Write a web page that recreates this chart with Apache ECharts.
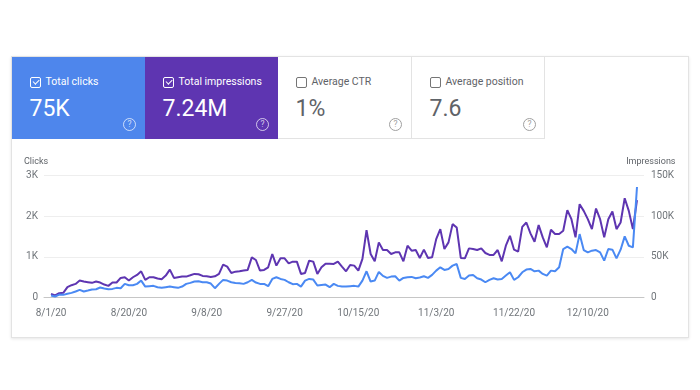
<!DOCTYPE html>
<html><head><meta charset="utf-8">
<script src="https://cdn.jsdelivr.net/npm/echarts@6/dist/echarts.min.js"></script>
<style>
html,body{margin:0;padding:0;background:#fff;width:700px;height:390px;overflow:hidden;font-family:Roboto,Arial,sans-serif;}
#card{position:absolute;left:11px;top:56px;width:676px;height:280px;border:1px solid #e3e3e3;box-shadow:0 1px 3px rgba(0,0,0,0.10);background:#fff;}
.tile{position:absolute;top:57px;height:82px;box-sizing:border-box;}
.cb{position:absolute;left:18px;top:19.5px;width:11px;height:11px;box-sizing:border-box;border:1.4px solid #fff;border-radius:2px;}
.cb.off{border-color:#757575;}
.ck{position:absolute;left:2.9px;top:0.6px;width:2.8px;height:5.4px;border-right:1.3px solid #fff;border-bottom:1.3px solid #fff;transform:rotate(45deg);}
.ttl{position:absolute;left:33.5px;top:19.2px;font-size:10.5px;line-height:11px;white-space:nowrap;}
.val{position:absolute;left:17.5px;top:39.6px;font-size:23px;line-height:23px;white-space:nowrap;}
.hp{position:absolute;left:111px;top:60.5px;width:13px;height:13px;box-sizing:border-box;border:1px solid;border-radius:50%;font-size:8.5px;line-height:11px;text-align:center;}
.dark{color:#fff;}
.dark .hp{border-color:rgba(255,255,255,0.7);color:rgba(255,255,255,0.75);}
.light{color:#5f6368;border-right:1px solid #e3e3e3;border-bottom:1px solid #e3e3e3;}
.light .hp{border-color:#a0a0a0;color:#a0a0a0;}
#chart{position:absolute;left:0;top:0;width:700px;height:390px;}
</style></head>
<body>
<div id="card"></div>
<div class="tile dark" style="left:12px;width:133px;background:#4e86ec;"><div class="cb"><div class="ck"></div></div><div class="ttl">Total clicks</div><div class="val">75K</div><div class="hp">?</div></div>
<div class="tile dark" style="left:145px;width:133px;background:#5e35b1;"><div class="cb"><div class="ck"></div></div><div class="ttl">Total impressions</div><div class="val">7.24M</div><div class="hp">?</div></div>
<div class="tile light" style="left:278px;width:134px;"><div class="cb off"></div><div class="ttl">Average CTR</div><div class="val">1%</div><div class="hp">?</div></div>
<div class="tile light" style="left:412px;width:133px;"><div class="cb off"></div><div class="ttl">Average position</div><div class="val">7.6</div><div class="hp">?</div></div>
<div id="chart"></div>
<script>
// Daily values, 8/1/20 .. 12/22/20 (144 days)
const tickLabels = ['8/1/20','8/20/20','9/8/20','9/27/20','10/15/20','11/3/20','11/22/20','12/10/20'];
const tickIndex = [0,19,38,57,75,94,113,131];
const clicks = [
 49,24,73,65,90,114,147,188,147,171,
 196,204,245,220,204,212,237,229,335,302,
 302,335,416,269,278,286,253,237,253,269,
 253,237,269,335,359,392,400,375,375,343,
 229,335,433,416,375,359,351,335,
 375,433,367,335,335,278,457,498,457,433,
 375,327,335,269,416,457,441,294,310,318,
 253,335,286,269,269,278,286,269,416,645,
 392,416,629,531,482,514,522,416,482,498,
 506,473,490,522,482,555,661,743,
 678,702,784,825,482,457,539,555,473,441,
 375,433,473,441,457,539,620,433,498,620,
 686,702,645,661,580,539,661,645,743,1192,
 1249,1192,1086,1559,1167,1110,1151,1167,1110,906,
 1192,1176,963,1176,1502,1273,1233,2718
];
const impressions = [
 4500,2500,5300,5700,12700,15100,16700,20800,19600,18800,
 18000,19600,18400,15900,14300,18400,18400,24100,24900,20800,
 24900,27800,32200,21600,24900,24900,23300,22500,26900,34300,
 24100,24900,25700,25700,27300,29000,28600,26500,26100,25300,
 26100,29000,40400,38000,30200,31800,32200,33100,
 33900,49400,46100,33100,33900,37100,53500,39200,48200,48200,
 42000,44100,44100,29000,30200,45300,44100,29000,37100,41600,
 41600,41200,44100,38000,32200,40000,39200,33100,47400,82900,
 53500,44500,67800,58400,58400,53500,55500,55500,44500,63700,
 57600,58400,48600,58800,48600,49400,71800,84100,
 59600,67800,90200,86100,48600,48200,60400,59600,58400,60400,
 54700,52300,52300,58400,44500,63700,75900,58800,56300,86900,
 92200,78800,68600,89000,73900,61600,83300,78000,78000,82000,
 107400,96300,73900,114700,106500,96300,84100,109400,96300,73900,
 96300,105700,84100,92200,122000,106500,84100,119600
];
const clickTicks = ['0','1K','2K','3K'];
const imprTicks = ['0','50K','100K','150K'];

const chart = echarts.init(document.getElementById('chart'), null, {renderer:'canvas'});
const lbl = {color:'#70757a', fontSize:10, fontFamily:'Roboto'};
chart.setOption({
  animation:false,
  grid:{left:44, right:56, top:175.5, bottom:92.5},
  xAxis:{
    type:'value', min:-1.71, max:144.71,
    splitLine:{show:false},
    axisTick:{show:false},
    axisLine:{show:true, lineStyle:{color:'#c6c6c6', width:1}},
    axisLabel:Object.assign({margin:10.5, customValues:tickIndex,
      formatter:v=>tickLabels[tickIndex.indexOf(v)]}, lbl)
  },
  yAxis:[
    {type:'value', min:0, max:3000, interval:1000, position:'left',
     axisLine:{show:false}, axisTick:{show:false},
     splitLine:{lineStyle:{color:'#eeeeee'}},
     axisLabel:Object.assign({margin:6, formatter:v=>clickTicks[v/1000]}, lbl)},
    {type:'value', min:0, max:150000, interval:50000, position:'right',
     axisLine:{show:false}, axisTick:{show:false}, splitLine:{show:false},
     axisLabel:Object.assign({margin:7, formatter:v=>imprTicks[v/50000]}, lbl)}
  ],
  graphic:[
    {type:'text', left:24, top:157, style:{text:'Clicks', fill:'#5f6368', fontSize:9, fontFamily:'Roboto'}},
    {type:'text', right:24.5, top:157, style:{text:'Impressions', fill:'#5f6368', fontSize:9, fontFamily:'Roboto'}}
  ],
  series:[
    {name:'Impressions', type:'line', yAxisIndex:1, showSymbol:false,
     lineStyle:{color:'#5e35b1', width:2}, itemStyle:{color:'#5e35b1'},
     data:impressions.map((v,i)=>[i,v])},
    {name:'Clicks', type:'line', yAxisIndex:0, showSymbol:false,
     lineStyle:{color:'#4a89f3', width:2}, itemStyle:{color:'#4a89f3'},
     data:clicks.map((v,i)=>[i,v])}
  ]
});
</script>
</body></html>
